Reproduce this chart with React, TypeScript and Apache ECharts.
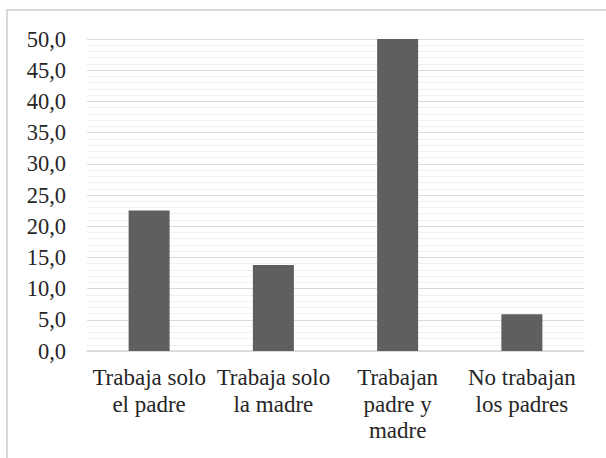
import React, { useEffect, useRef } from "react";
import * as echarts from "echarts";

const categories = [
  "Trabaja solo\nel padre",
  "Trabaja solo\nla madre",
  "Trabajan\npadre y\nmadre",
  "No trabajan\nlos padres",
];
const values = [22.5, 13.8, 50.0, 5.9];
const yMin = 0;
const yMax = 50;
const yInterval = 5;

export default function App() {
  const ref = useRef<HTMLDivElement>(null);
  useEffect(() => {
    if (!ref.current) return;
    const chart = echarts.init(ref.current, undefined, { renderer: "svg" });
    const font = "Liberation Serif";
    chart.setOption({
      animation: false,
      grid: { left: 87, right: 22, top: 39, bottom: 107 },
      xAxis: {
        type: "category",
        data: categories,
        axisTick: { show: false },
        axisLine: { lineStyle: { color: "#d9d9d9", width: 1.5 } },
        axisLabel: {
          interval: 0,
          fontFamily: font,
          fontStyle: "normal",
          fontWeight: "normal",
          fontSize: 23,
          lineHeight: 26.7,
          margin: 13,
          color: "#262626",
        },
      },
      yAxis: {
        type: "value",
        min: yMin,
        max: yMax,
        interval: yInterval,
        axisLine: { show: false },
        axisTick: { show: false },
        axisLabel: {
          fontFamily: font,
          fontStyle: "normal",
          fontWeight: "normal",
          fontSize: 22.5,
          margin: 21,
          color: "#262626",
          formatter: (v: number) => v.toFixed(1).replace(".", ","),
        },
        splitLine: { lineStyle: { color: "#d9d9d9", width: 1 } },
        minorTick: { show: false, splitNumber: 5 },
        minorSplitLine: { show: true, lineStyle: { color: "#f0f0f0", width: 1 } },
      },
      series: [
        {
          type: "bar",
          data: values,
          barWidth: "33%",
          itemStyle: { color: "#5f5f5f" },
        },
      ],
    });
    return () => chart.dispose();
  }, []);
  return (
    <div
      style={{
        position: "fixed",
        left: 0,
        top: 0,
        width: 606,
        height: 458,
        overflow: "hidden",
        background: "#ffffff",
      }}
    >
      <div
        style={{
          position: "absolute",
          left: 6,
          top: 9,
          width: 700,
          height: 600,
          border: "2px solid #d9d9d9",
        }}
      />
      <div
        ref={ref}
        style={{ position: "absolute", left: 0, top: 0, width: 606, height: 458 }}
      />
    </div>
  );
}
